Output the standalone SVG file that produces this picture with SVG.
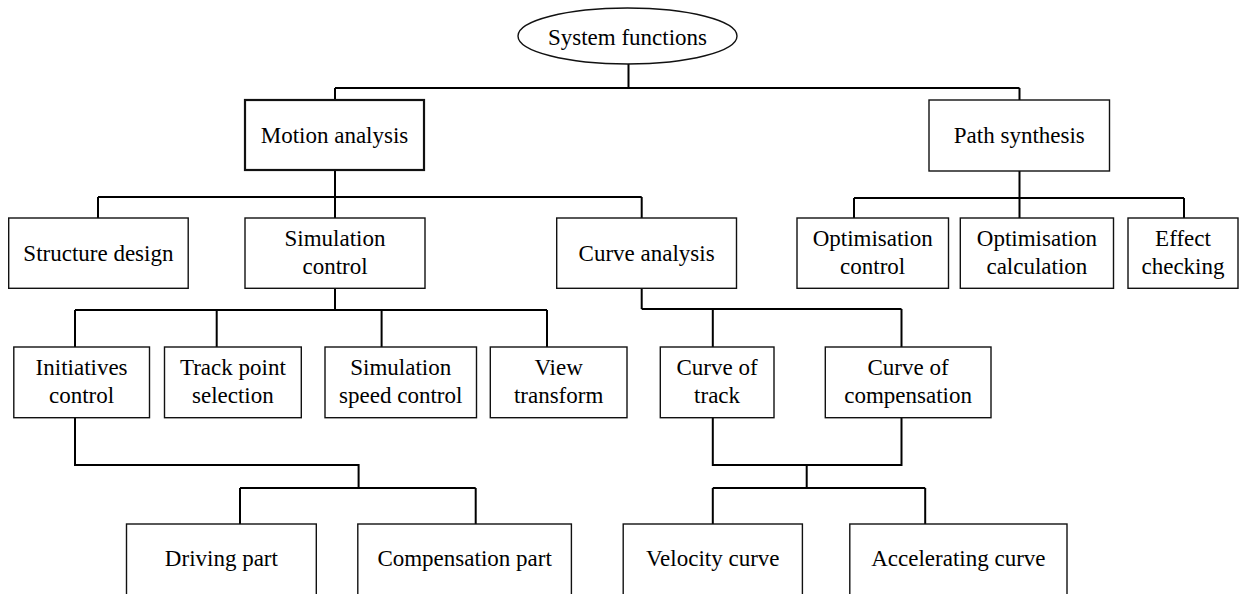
<svg xmlns="http://www.w3.org/2000/svg" width="1239" height="594" viewBox="0 0 1239 594">
<style>
.box{fill:#fff;stroke:#111;stroke-width:1.4}
.bold{stroke-width:2.2}
.t{font-family:"Liberation Serif","Times New Roman",serif;font-size:23px;fill:#000;text-anchor:middle}
.c{fill:none;stroke:#000;stroke-width:2}
</style>
<rect width="1239" height="594" fill="#fff"/>
<g id="connectors">
<path class="c" d="M628.5 64V88M335 88H1019.5M335 88V100M1019.5 88V100"/>
<path class="c" d="M335 170V197M98 197H641.7M98 197V218M335 197V218M641.7 197V218"/>
<path class="c" d="M1019.5 171V198M854 198H1184M854 198V218M1019.5 198V218M1184 198V218"/>
<path class="c" d="M335 288V310M75 310H547M75 310V347M216.7 310V347M381.6 310V347M547 310V347"/>
<path class="c" d="M641.7 288V309M641.7 309H901.5M712.8 309V347M901.5 309V347"/>
<path class="c" d="M75 418V465H358.6V488M240 488H475.7M240 488V524M475.7 488V524"/>
<path class="c" d="M712.8 418V465H901.5V418M806.7 465V488M712.8 488H925.2M712.8 488V524M925.2 488V524"/>
</g>
<g id="system-functions">
<ellipse cx="627.5" cy="36" rx="109.5" ry="28" class="box"/>
<text class="t" x="627.5" y="44.5">System functions</text>
</g>
<g id="motion-analysis">
<rect class="box bold" x="245" y="100" width="179" height="70"/>
<text class="t" x="334.5" y="143">Motion analysis</text>
</g>
<g id="path-synthesis">
<rect class="box" x="929" y="100" width="180.5" height="71"/>
<text class="t" x="1019.3" y="143">Path synthesis</text>
</g>
<g id="structure-design">
<rect class="box" x="8.7" y="218" width="179.5" height="70.3"/>
<text class="t" x="98.4" y="261">Structure design</text>
</g>
<g id="simulation-control">
<rect class="box" x="245" y="218" width="180" height="70.3"/>
<text class="t" x="335" y="246">Simulation</text>
<text class="t" x="335" y="274">control</text>
</g>
<g id="curve-analysis">
<rect class="box" x="556.7" y="218" width="179.8" height="70.3"/>
<text class="t" x="646.6" y="261">Curve analysis</text>
</g>
<g id="optimisation-control">
<rect class="box" x="797" y="218" width="151.5" height="70.3"/>
<text class="t" x="872.7" y="246">Optimisation</text>
<text class="t" x="872.7" y="274">control</text>
</g>
<g id="optimisation-calculation">
<rect class="box" x="960.3" y="218" width="153.2" height="70.3"/>
<text class="t" x="1036.9" y="246">Optimisation</text>
<text class="t" x="1036.9" y="274">calculation</text>
</g>
<g id="effect-checking">
<rect class="box" x="1128" y="218" width="110" height="70.3"/>
<text class="t" x="1183" y="246">Effect</text>
<text class="t" x="1183" y="274">checking</text>
</g>
<g id="initiatives-control">
<rect class="box" x="13.8" y="347" width="135.7" height="70.7"/>
<text class="t" x="81.6" y="375">Initiatives</text>
<text class="t" x="81.6" y="403">control</text>
</g>
<g id="track-point-selection">
<rect class="box" x="164.5" y="347" width="136.8" height="70.7"/>
<text class="t" x="232.9" y="375">Track point</text>
<text class="t" x="232.9" y="403">selection</text>
</g>
<g id="simulation-speed-control">
<rect class="box" x="325" y="347" width="151.5" height="70.7"/>
<text class="t" x="400.7" y="375">Simulation</text>
<text class="t" x="400.7" y="403">speed control</text>
</g>
<g id="view-transform">
<rect class="box" x="490.3" y="347" width="136.7" height="70.7"/>
<text class="t" x="558.6" y="375">View</text>
<text class="t" x="558.6" y="403">transform</text>
</g>
<g id="curve-of-track">
<rect class="box" x="660.3" y="347" width="113.7" height="70.7"/>
<text class="t" x="717.1" y="375">Curve of</text>
<text class="t" x="717.1" y="403">track</text>
</g>
<g id="curve-of-compensation">
<rect class="box" x="825.3" y="347" width="165.7" height="70.7"/>
<text class="t" x="908.1" y="375">Curve of</text>
<text class="t" x="908.1" y="403">compensation</text>
</g>
<g id="driving-part">
<rect class="box" x="126.5" y="524" width="189.8" height="80"/>
<text class="t" x="221.4" y="566">Driving part</text>
</g>
<g id="compensation-part">
<rect class="box" x="357.8" y="524" width="213.6" height="80"/>
<text class="t" x="464.6" y="566">Compensation part</text>
</g>
<g id="velocity-curve">
<rect class="box" x="623.2" y="524" width="179.2" height="80"/>
<text class="t" x="712.8" y="566">Velocity curve</text>
</g>
<g id="accelerating-curve">
<rect class="box" x="849.8" y="524" width="217.2" height="80"/>
<text class="t" x="958.4" y="566">Accelerating curve</text>
</g>
</svg>
